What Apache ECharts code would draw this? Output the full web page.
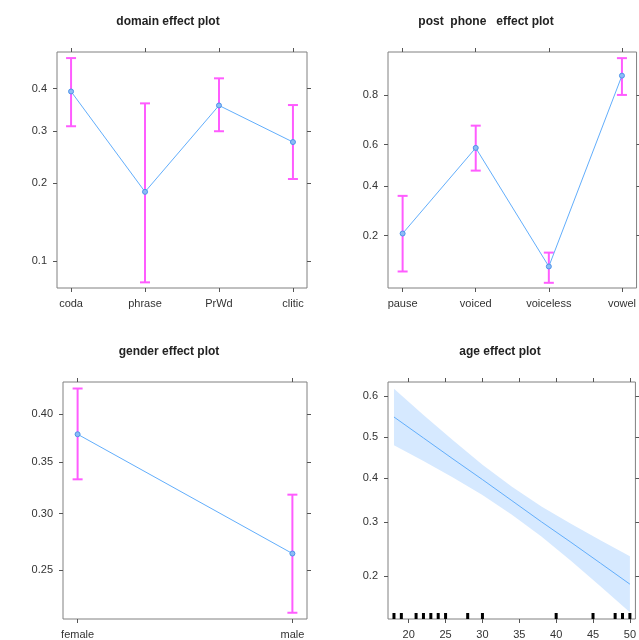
<!DOCTYPE html>
<html>
<head>
<meta charset="utf-8">
<title>effect plots</title>
<script src="https://cdn.jsdelivr.net/npm/echarts@6/dist/echarts.min.js"></script>
<style>
html, body { margin: 0; padding: 0; background: #fff; }
#chart { width: 639px; height: 640px; }
</style>
</head>
<body>
<div id="chart"></div>
<script>
// domain effect
const domainCats = ['coda', 'phrase', 'PrWd', 'clitic'];
const domainFit = [0.393, 0.186, 0.359, 0.277];
const domainLower = [0.311, 0.082, 0.300, 0.207];
const domainUpper = [0.478, 0.364, 0.426, 0.360];
const domainTicks = [0.1, 0.2, 0.3, 0.4];

// post phone effect
const phoneCats = ['pause', 'voiced', 'voiceless', 'vowel'];
const phoneFit = [0.207, 0.585, 0.120, 0.854];
const phoneLower = [0.110, 0.474, 0.090, 0.800];
const phoneUpper = [0.354, 0.686, 0.152, 0.892];
const phoneTicks = [0.2, 0.4, 0.6, 0.8];

// gender effect
const genderCats = ['female', 'male'];
const genderFit = [0.379, 0.264];
const genderLower = [0.333, 0.216];
const genderUpper = [0.428, 0.318];
const genderTicks = [0.25, 0.30, 0.35, 0.40];

// age effect
const ageX = [18, 22, 26, 30, 34, 38, 42, 46, 50];
const ageFit = [0.550, 0.498, 0.446, 0.396, 0.347, 0.301, 0.260, 0.222, 0.188];
const ageLower = [0.480, 0.441, 0.401, 0.360, 0.316, 0.271, 0.226, 0.185, 0.149];
const ageUpper = [0.618, 0.555, 0.492, 0.432, 0.379, 0.334, 0.297, 0.264, 0.234];
const ageTicksX = [20, 25, 30, 35, 40, 45, 50];
const ageTicksY = [0.2, 0.3, 0.4, 0.5, 0.6];
const ageRug = [18, 19, 21, 22, 23, 24, 25, 28, 30, 40, 45, 48, 49, 50];

const logit = p => Math.log(p / (1 - p));
const FONT = '"Liberation Sans", Arial, sans-serif';
const LINE_COL = '#62aefc';
const BAR_COL = '#ff5cff';

const chart = echarts.init(document.getElementById('chart'));

const grids = [
  { left: 57, top: 52, width: 250, height: 236 },
  { left: 388, top: 52, width: 250, height: 236 },
  { left: 63, top: 382, width: 244, height: 237 },
  { left: 388, top: 382, width: 251, height: 237 }
].map(g => Object.assign(g, { show: true, borderColor: '#808080', borderWidth: 1, containLabel: false }));

const xAxes = [];
const yAxes = [];

function closestLabel(ticks, digits, v, toData) {
  let best = 0;
  ticks.forEach((t, i) => {
    if (Math.abs(toData(t) - v) < Math.abs(toData(ticks[best]) - v)) best = i;
  });
  return ticks[best].toFixed(digits);
}

function addAxes(gi, xmin, xmax, xVals, xFmt, ymin, ymax, yTicks, yDigits) {
  const tick = { show: true, length: 4, lineStyle: { color: '#555' } };
  const label = { fontFamily: FONT, fontSize: 11, color: '#333' };
  ['bottom', 'top'].forEach(pos => {
    xAxes.push({
      type: 'value', gridIndex: gi, position: pos, min: xmin, max: xmax,
      axisLine: { show: false, onZero: false }, splitLine: { show: false },
      axisTick: Object.assign({ customValues: xVals }, tick),
      axisLabel: Object.assign({ show: pos === 'bottom', margin: 10, customValues: xVals, formatter: xFmt }, label)
    });
  });
  const yVals = yTicks.map(logit);
  ['left', 'right'].forEach(pos => {
    yAxes.push({
      type: 'value', gridIndex: gi, position: pos, min: ymin, max: ymax,
      axisLine: { show: false, onZero: false }, splitLine: { show: false },
      axisTick: Object.assign({ customValues: yVals }, tick),
      axisLabel: Object.assign({
        show: pos === 'left', margin: 10, customValues: yVals,
        formatter: v => closestLabel(yTicks, yDigits, v, logit)
      }, label)
    });
  });
}

const catFmt = cats => v => cats[Math.round(v) - 1] || '';

addAxes(0, 0.81, 4.19, [1, 2, 3, 4], catFmt(domainCats), -2.474, -0.025, domainTicks, 1);
addAxes(1, 0.80, 4.20, [1, 2, 3, 4], catFmt(phoneCats), -2.416, 2.232, phoneTicks, 1);
addAxes(2, 0.932, 2.068, [1, 2], catFmt(genderCats), -1.317, -0.261, genderTicks, 2);
addAxes(3, 17.19, 50.75, ageTicksX, v => String(Math.round(v)), -1.810, 0.549, ageTicksY, 1);

function errorBars(gi, lower, upper) {
  return {
    type: 'custom', xAxisIndex: gi * 2, yAxisIndex: gi * 2, z: 2,
    data: lower.map((lo, i) => [i + 1, logit(lo), logit(upper[i])]),
    renderItem(params, api) {
      const x = api.value(0);
      const a = api.coord([x, api.value(1)]);
      const b = api.coord([x, api.value(2)]);
      const style = { stroke: BAR_COL, lineWidth: 2 };
      return {
        type: 'group',
        children: [
          { type: 'line', shape: { x1: a[0], y1: a[1], x2: b[0], y2: b[1] }, style },
          { type: 'line', shape: { x1: a[0] - 5, y1: a[1], x2: a[0] + 5, y2: a[1] }, style },
          { type: 'line', shape: { x1: b[0] - 5, y1: b[1], x2: b[0] + 5, y2: b[1] }, style }
        ]
      };
    }
  };
}

function fitLine(gi, xs, fit, showSymbol) {
  return {
    type: 'line', xAxisIndex: gi * 2, yAxisIndex: gi * 2, z: 3,
    data: fit.map((p, i) => [xs[i], logit(p)]),
    symbol: 'circle', symbolSize: 5, showSymbol: showSymbol,
    lineStyle: { color: LINE_COL, width: 1 },
    itemStyle: { color: '#8dbdf6', borderColor: '#4d93ea', borderWidth: 1 }
  };
}

const idx = arr => arr.map((_, i) => i + 1);

const series = [
  errorBars(0, domainLower, domainUpper),
  fitLine(0, idx(domainFit), domainFit, true),
  errorBars(1, phoneLower, phoneUpper),
  fitLine(1, idx(phoneFit), phoneFit, true),
  errorBars(2, genderLower, genderUpper),
  fitLine(2, idx(genderFit), genderFit, true),
  {
    // confidence band for age
    type: 'custom', xAxisIndex: 6, yAxisIndex: 6, z: 1,
    data: [0],
    renderItem(params, api) {
      const top = ageX.map((a, i) => api.coord([a, logit(ageUpper[i])]));
      const bot = ageX.map((a, i) => api.coord([a, logit(ageLower[i])])).reverse();
      return { type: 'polygon', shape: { points: top.concat(bot) }, style: { fill: '#d6e9ff' } };
    }
  },
  fitLine(3, ageX, ageFit, false),
  {
    // rug of observed ages
    type: 'custom', xAxisIndex: 6, yAxisIndex: 6, z: 4,
    data: ageRug,
    renderItem(params, api) {
      const p = api.coord([api.value(0), -1.810]);
      return { type: 'rect', shape: { x: p[0] - 1.5, y: p[1] - 6, width: 3, height: 6 }, style: { fill: '#000' } };
    }
  }
];

const titleStyle = { fontFamily: FONT, fontSize: 12, fontWeight: 'bold', color: '#222' };
const title = [
  { text: 'domain effect plot', left: 168, top: 16 },
  { text: 'post  phone   effect plot', left: 486, top: 16 },
  { text: 'gender effect plot', left: 169, top: 346 },
  { text: 'age effect plot', left: 500, top: 346 }
].map(t => Object.assign(t, { textAlign: 'center', padding: 0, textStyle: titleStyle }));

chart.setOption({
  animation: false,
  backgroundColor: '#fff',
  title,
  grid: grids,
  xAxis: xAxes,
  yAxis: yAxes,
  series
});
</script>
</body>
</html>
